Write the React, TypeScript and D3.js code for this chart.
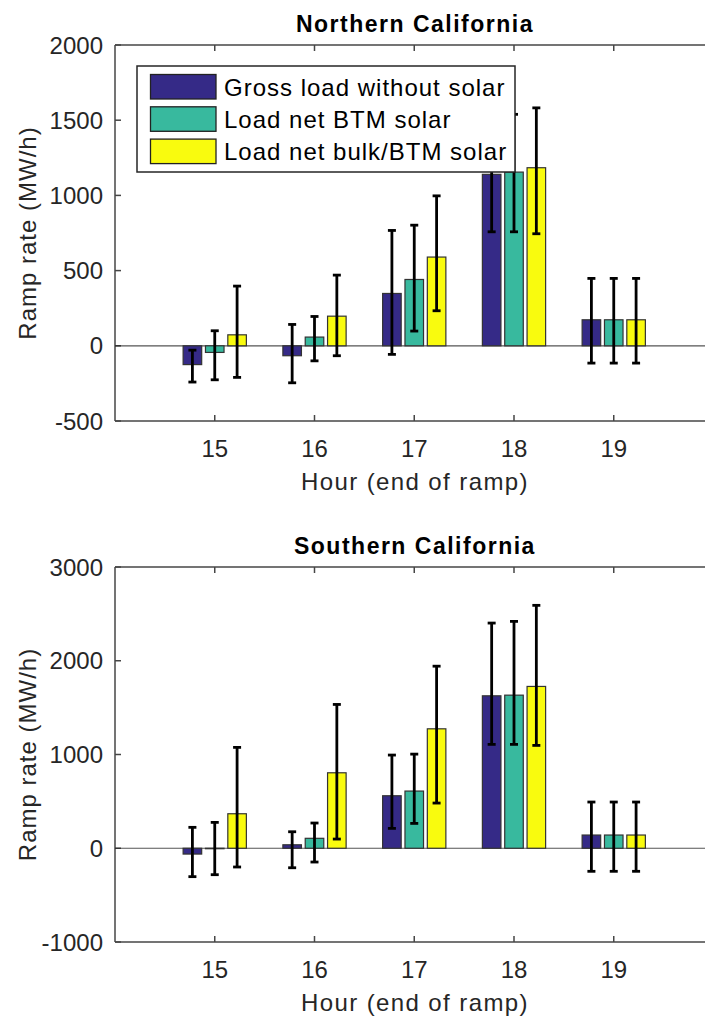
import React from "react";
import * as d3 from "d3";

const hours = [15, 16, 17, 18, 19];
const seriesNames = ["Gross load without solar", "Load net BTM solar", "Load net bulk/BTM solar"];
const seriesColors = ["#352a87", "#38b99e", "#f9fb0e"];

// Northern California
const northGross = [-125, -66, 348, 1140, 173];
const northGrossLow = [-241, -246, -57, 758, -115];
const northGrossHigh = [-29, 142, 767, 1530, 448];
const northBTM = [-44, 58, 441, 1155, 173];
const northBTMLow = [-226, -100, 98, 758, -115];
const northBTMHigh = [100, 195, 802, 1539, 448];
const northBulk = [73, 197, 590, 1184, 173];
const northBulkLow = [-210, -66, 233, 745, -115];
const northBulkHigh = [397, 470, 997, 1582, 448];
const northTicks = [-500, 0, 500, 1000, 1500, 2000];

// Southern California
const southGross = [-62, 37, 560, 1626, 141];
const southGrossLow = [-303, -208, 212, 1108, -246];
const southGrossHigh = [223, 176, 994, 2402, 493];
const southBTM = [-5, 106, 610, 1633, 141];
const southBTMLow = [-282, -147, 265, 1108, -246];
const southBTMHigh = [276, 269, 1004, 2420, 493];
const southBulk = [368, 805, 1274, 1726, 141];
const southBulkLow = [-200, 98, 482, 1097, -246];
const southBulkHigh = [1076, 1534, 1942, 2591, 493];
const southTicks = [-1000, 0, 1000, 2000, 3000];

const FONT = "'Liberation Sans', Arial, Helvetica, sans-serif";
const AX = "#262626";

type Panel = {
  title: string;
  domain: [number, number];
  top: number;
  bottom: number;
  ticks: number[];
  values: number[][];
  lows: number[][];
  highs: number[][];
  legend: boolean;
};

const panels: Panel[] = [
  {
    title: "Northern California",
    domain: [-500, 2000],
    top: 45,
    bottom: 421,
    ticks: northTicks,
    values: [northGross, northBTM, northBulk],
    lows: [northGrossLow, northBTMLow, northBulkLow],
    highs: [northGrossHigh, northBTMHigh, northBulkHigh],
    legend: true,
  },
  {
    title: "Southern California",
    domain: [-1000, 3000],
    top: 567,
    bottom: 942,
    ticks: southTicks,
    values: [southGross, southBTM, southBulk],
    lows: [southGrossLow, southBTMLow, southBulkLow],
    highs: [southGrossHigh, southBTMHigh, southBulkHigh],
    legend: false,
  },
];

const x = d3.scaleLinear().domain([14, 20]).range([115, 713.5]);
const LEFT = 115;
const RIGHT = 713.5;
const groupOffset = 0.224;
const barW = 0.186;

function PanelView({ p }: { p: Panel }) {
  const y = d3.scaleLinear().domain(p.domain).range([p.bottom, p.top]);
  const bw = x(14 + barW) - x(14);
  const cx = (h: number, s: number) => x(h + (s - 1) * groupOffset);
  const midY = (p.top + p.bottom) / 2;
  return (
    <g>
      <line x1={LEFT} x2={RIGHT} y1={y(0)} y2={y(0)} stroke="#555" strokeWidth={1.2} />
      {p.values.map((vals, s) =>
        vals.map((v, i) => (
          <rect
            key={`b${s}-${i}`}
            x={cx(hours[i], s) - bw / 2}
            y={Math.min(y(v), y(0))}
            width={bw}
            height={Math.abs(y(v) - y(0))}
            fill={seriesColors[s]}
            stroke="#333"
            strokeWidth={1.2}
          />
        ))
      )}
      {p.values.map((vals, s) =>
        vals.map((v, i) => {
          const c = cx(hours[i], s);
          const lo = y(p.lows[s][i]);
          const hi = y(p.highs[s][i]);
          return (
            <g key={`e${s}-${i}`} stroke="#000" strokeWidth={2.8}>
              <line x1={c} x2={c} y1={lo} y2={hi} />
              <line x1={c - 4} x2={c + 4} y1={lo} y2={lo} />
              <line x1={c - 4} x2={c + 4} y1={hi} y2={hi} />
            </g>
          );
        })
      )}
      <g stroke={AX} strokeWidth={1.5} fill="none" opacity={0.85}>
        <line x1={LEFT} x2={LEFT} y1={p.top} y2={p.bottom} />
        <line x1={LEFT} x2={RIGHT} y1={p.top} y2={p.top} />
        <line x1={LEFT} x2={RIGHT} y1={p.bottom} y2={p.bottom} />
        {p.ticks.map((t) => (
          <line key={`yt${t}`} x1={LEFT} x2={LEFT + 6} y1={y(t)} y2={y(t)} />
        ))}
        {hours.map((h) => (
          <g key={`xt${h}`}>
            <line x1={x(h)} x2={x(h)} y1={p.bottom} y2={p.bottom - 6} />
            <line x1={x(h)} x2={x(h)} y1={p.top} y2={p.top + 6} />
          </g>
        ))}
      </g>
      {p.ticks.map((t) => (
        <text
          key={`ytl${t}`}
          x={LEFT - 12}
          y={y(t)}
          dy="0.36em"
          textAnchor="end"
          fontSize={24}
          fill={AX}
          fontFamily={FONT}
        >
          {t}
        </text>
      ))}
      {hours.map((h) => (
        <text
          key={`xtl${h}`}
          x={x(h)}
          y={p.bottom + 36}
          textAnchor="middle"
          fontSize={24}
          fill={AX}
          fontFamily={FONT}
        >
          {h}
        </text>
      ))}
      <text
        x={x(17) + 0.7}
        y={p.bottom + 69}
        textAnchor="middle"
        fontSize={24}
        letterSpacing={1.4}
        fill={AX}
        fontFamily={FONT}
      >
        Hour (end of ramp)
      </text>
      <text
        transform={`translate(36,${midY}) rotate(-90)`}
        textAnchor="middle"
        fontSize={24}
        letterSpacing={1}
        fill={AX}
        fontFamily={FONT}
      >
        Ramp rate (MW/h)
      </text>
      <text
        x={x(17) + 0.7}
        y={p.top - 13}
        textAnchor="middle"
        fontSize={23}
        letterSpacing={1.5}
        fontWeight="bold"
        fill="#000"
        fontFamily={FONT}
      >
        {p.title}
      </text>
      {p.legend && (
        <g>
          <rect x={137} y={66} width={378} height={106} fill="#fff" stroke={AX} strokeWidth={1.5} />
          {seriesNames.map((n, s) => (
            <g key={`lg${s}`}>
              <rect
                x={150.5}
                y={74.5 + s * 32.3}
                width={65.5}
                height={24.5}
                fill={seriesColors[s]}
                stroke="#222"
                strokeWidth={1.3}
              />
              <text
                x={224}
                y={87 + s * 32.3}
                dy="0.36em"
                fontSize={24}
                letterSpacing={1}
                fill="#000"
                fontFamily={FONT}
              >
                {n}
              </text>
            </g>
          ))}
        </g>
      )}
    </g>
  );
}

export default function App() {
  return (
    <svg
      width={705}
      height={1017}
      style={{ position: "absolute", left: 0, top: 0, background: "#fff" }}
    >
      <rect x={0} y={0} width={705} height={1017} fill="#fff" />
      {panels.map((p) => (
        <PanelView key={p.title} p={p} />
      ))}
    </svg>
  );
}
